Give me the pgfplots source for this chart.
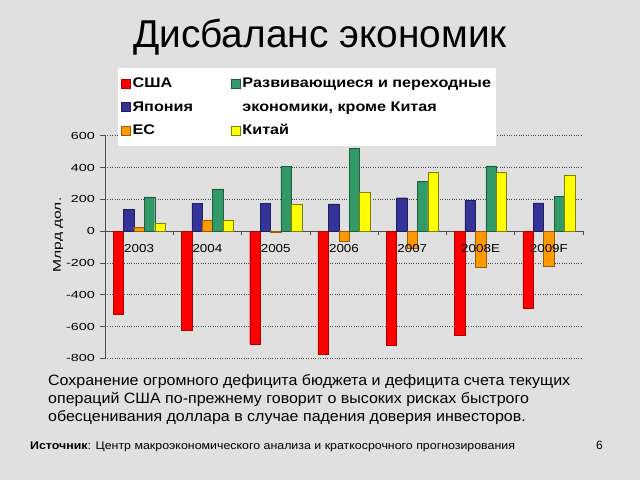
\documentclass[border=0pt]{standalone}
\usepackage{pgfplots}
\pgfplotsset{compat=1.18}
\usepackage{fontspec}
\setmainfont{Liberation Sans}
\newfontfamily\sA[FakeStretch=1.07]{Liberation Sans}
\newfontfamily\sB[FakeStretch=1.11]{Liberation Sans}
\newfontfamily\sC[FakeStretch=1.16]{Liberation Sans}
\newfontfamily\sD[FakeStretch=1.4]{Liberation Sans}
\definecolor{bg}{RGB}{224,224,224}
\definecolor{cusa}{RGB}{255,0,0}
\definecolor{cjap}{RGB}{51,51,153}
\definecolor{ceu}{RGB}{255,153,0}
\definecolor{cdev}{RGB}{51,153,102}
\definecolor{cchn}{RGB}{255,255,0}
\pgfplotsset{
  sq/.style={legend image code/.code={\draw[##1] (0bp,-4.5bp) rectangle (9bp,4.5bp);}},
  frame/.style={
    at={(105bp,121.7bp)}, anchor=south west,
    scale only axis, width=478bp, height=222.6bp,
    xmin=-0.5, xmax=6.5, ymin=-800, ymax=600,
    clip=false,
  },
}
\begin{document}
\begin{tikzpicture}
\fill[bg] (0,0) rectangle (640bp,480bp);
\path[use as bounding box] (0,0) rectangle (640bp,480bp);
\node[anchor=base, inner sep=0] at (320bp,432.5bp) {\fontsize{39}{43}\selectfont Дисбаланс экономик};
\begin{axis}[
  frame,
  axis x line=middle, axis y line=left,
  axis line style={-, black!70, line width=0.7bp},
  hide obscured x ticks=false, hide obscured y ticks=false,
  xtick={0,...,6}, xticklabels={},
  major x tick style={draw=none},
  minor xtick={-0.5,0.5,...,6.5},
  minor tick length=4bp, major tick length=5bp,
  tick align=outside,
  tick style={black!70, line width=0.6bp},
  ytick={-800,-600,...,600},
  ymajorgrids, grid style={dotted, black!70, line width=0.6bp},
  /pgf/number format/assume math mode=true,
  yticklabel style={font=\sD\fontsize{10.3}{12}\selectfont, anchor=east, inner sep=2bp, xshift=-3bp},
  every axis y label/.style={at={(axis description cs:-0.098,0.554)}, rotate=90, anchor=center, font=\sD\fontsize{11.2}{13}\selectfont},
  ylabel={Млрд дол.},
  legend columns=3, transpose legend,
  legend cell align=left,
  legend style={at={(axis description cs:0.0272,1.304)}, anchor=north west,
    fill=white, draw=none, inner xsep=3bp, inner ysep=8bp,
    font=\sC\bfseries\fontsize{14}{16}\selectfont,
    row sep=8bp,
    nodes={inner sep=2bp},
    /tikz/column 2/.append style={column sep=36bp}},
]
\addplot[ybar, bar width=10.4bp, bar shift=-20.8bp, fill=cusa, draw=cusa!70!black, line width=0.4bp, sq]
  coordinates {(0,-520) (1,-625) (2,-712) (3,-773) (4,-717) (5,-656) (6,-485)};
\addlegendentry{США}
\addplot[ybar, bar width=10.4bp, bar shift=-10.4bp, fill=cjap, draw=cjap!60!black, line width=0.4bp, sq]
  coordinates {(0,137) (1,175) (2,175) (3,171) (4,210) (5,194) (6,177)};
\addlegendentry{Япония}
\addplot[ybar, bar width=10.4bp, bar shift=0bp, fill=ceu, draw=ceu!60!black, line width=0.4bp, sq]
  coordinates {(0,25) (1,70) (2,-8) (3,-65) (4,-106) (5,-229) (6,-219)};
\addlegendentry{ЕС}
\addplot[ybar, bar width=10.4bp, bar shift=10.4bp, fill=cdev, draw=cdev!60!black, line width=0.4bp, sq]
  coordinates {(0,215) (1,265) (2,408) (3,519) (4,315) (5,410) (6,217)};
\addlegendentry{Развивающиеся и переходные}
\addlegendimage{empty legend}
\addlegendentry{экономики, кроме Китая}
\addplot[ybar, bar width=10.4bp, bar shift=20.8bp, fill=cchn, draw=cchn!50!black, line width=0.4bp, sq]
  coordinates {(0,48) (1,70) (2,167) (3,246) (4,373) (5,369) (6,350)};
\addlegendentry{Китай}
\end{axis}
\begin{axis}[
  frame,
  axis x line=middle, axis y line=none,
  x axis line style={draw=none},
  hide obscured x ticks=false,
  xtick={0,...,6}, xticklabels={2003,2004,2005,2006,2007,2008E,2009F},
  major tick length=0pt, x tick style={draw=none},
  xticklabel style={font=\sC\fontsize{11.6}{13}\selectfont, anchor=north, yshift=-12bp, inner sep=1bp},
]
\end{axis}
\node[anchor=base west, align=left, inner sep=0, font=\sA\fontsize{15}{18.2}\selectfont] at (48bp,58.5bp)
  {Сохранение огромного дефицита бюджета и дефицита счета текущих\\
   операций США по-прежнему говорит о высоких рисках быстрого\\
   обесценивания доллара в случае падения доверия инвесторов.};
\node[anchor=base west, inner sep=0, font=\sB\fontsize{11.2}{13}\selectfont] at (30bp,31bp)
  {\textbf{Источник}: Центр макроэкономического анализа и краткосрочного прогнозирования};
\node[anchor=base west, inner sep=0, font=\fontsize{12}{14}\selectfont] at (596bp,31bp) {6};
\end{tikzpicture}
\end{document}
